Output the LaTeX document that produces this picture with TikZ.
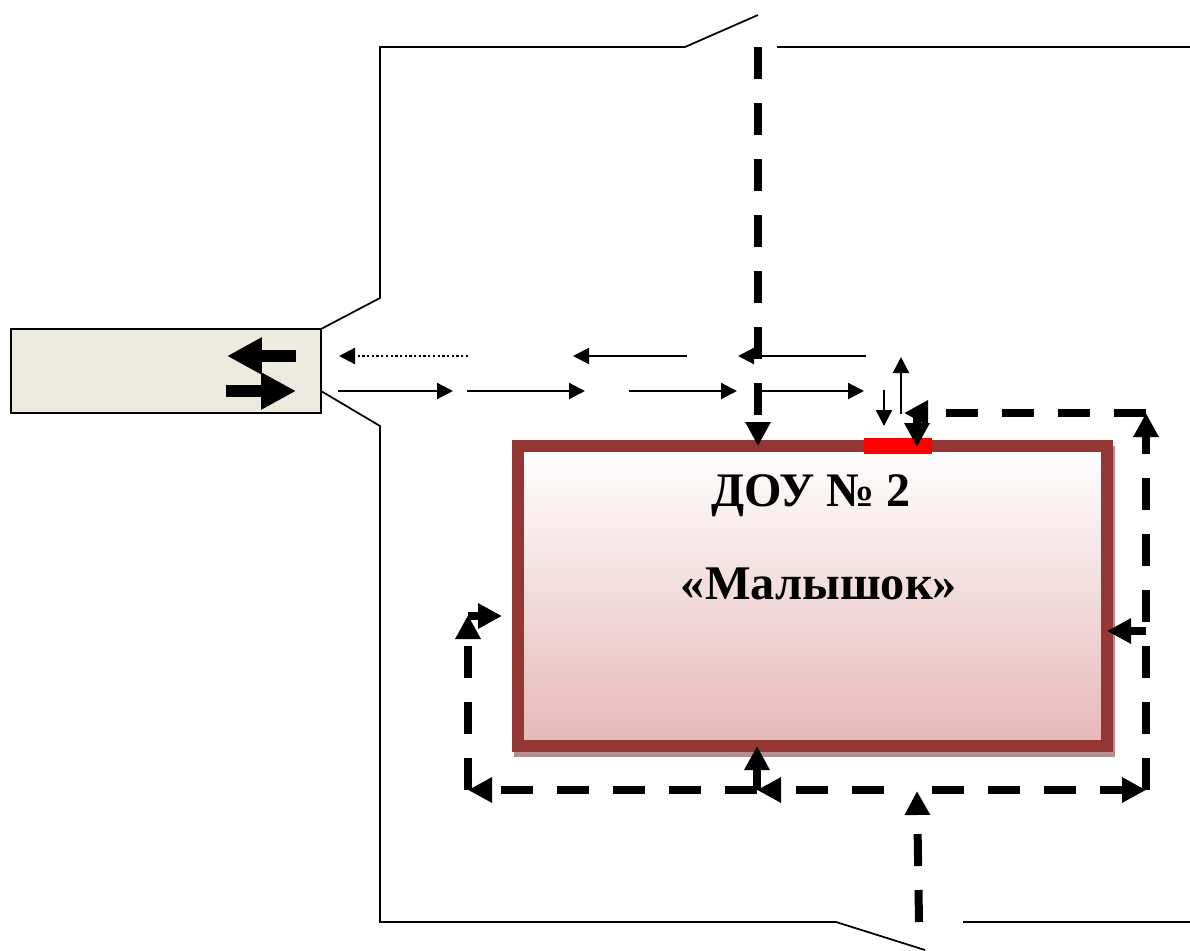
\documentclass[tikz,border=0pt]{standalone}
\usepackage{fontspec}
\setmainfont{Liberation Serif}
\usetikzlibrary{arrows.meta}

\definecolor{gatefill}{HTML}{EDEBE0}
\definecolor{wallbrown}{HTML}{943634}
\definecolor{wallshadow}{HTML}{B28F8E}
\definecolor{wallpink}{HTML}{E5B8B7}

\tikzset{
    road/.style={line width=0.035cm},
    car/.style={line width=0.045cm, -{Triangle[length=0.32cm, width=0.32cm]}},
    walk/.style={line width=0.16cm, dash pattern=on 0.64cm off 0.48cm, -{Triangle[length=0.48cm, width=0.48cm]}},
    stub/.style={line width=0.16cm, -{Triangle[length=0.48cm, width=0.48cm]}},
    gatearrow/.style={line width=0.24cm, -{Triangle[length=0.7cm, width=0.7cm]}}
}

\begin{document}
\begin{tikzpicture}[x=0.02cm, y=-0.02cm]
    \useasboundingbox (0, 0) rectangle (1190, 950);

    % Streets
    \draw[road] (758, 15) -- (685, 47) -- (380, 47) -- (380, 298) -- (321, 329);
    \draw[road] (777, 47) -- (1190, 47);
    \draw[road] (321, 391) -- (380, 426) -- (380, 922) -- (836, 922) -- (925, 950);
    \draw[road] (963, 922) -- (1190, 922);

    % Gate
    \draw[line width=0.04cm, fill=gatefill] (11, 329) rectangle (321, 413);
    \draw[gatearrow] (296, 356) -- (227, 356);
    \draw[gatearrow] (226, 391) -- (296, 391);

    % Building
    \fill[wallshadow] (514, 446) rectangle (1115, 757);
    \draw[line width=0.24cm, draw=wallbrown, top color=white, bottom color=wallpink] (518, 446) rectangle (1107, 746);
    \fill[red] (864, 438) rectangle (932, 454);
    \node[font=\bfseries, scale=2.74, anchor=base] (name1) at (811, 506) {ДОУ № 2};
    \node[font=\bfseries, scale=2.75, anchor=base] (name2) at (819, 599) {«Малышок»};

    % Traffic
    \draw[car, dash pattern=on 0.046cm off 0.048cm] (468, 356) -- (339, 356);
    \draw[car] (687, 356) -- (573, 356);
    \draw[car] (866, 356) -- (738, 356);
    \draw[car] (338, 391) -- (453, 391);
    \draw[car] (467, 391) -- (585, 391);
    \draw[car] (629, 391) -- (737, 391);
    \draw[car] (762, 391) -- (864, 391);
    \draw[car] (901, 414) -- (901, 357);
    \draw[car] (884, 390) -- (884, 426);

    % Walking routes
    \draw[walk] (758, 47) -- (758, 446);
    \draw[walk] (1146, 790) -- (1146, 413);
    \draw[walk] (1146, 413) -- (904, 413);
    \draw[stub] (917, 413) -- (917, 447);
    \draw[stub] (1146, 631) -- (1107, 631);
    \draw[walk] (932, 790) -- (1146, 790);
    \draw[walk] (884, 790) -- (757, 790);
    \draw[walk] (757, 790) -- (468, 790);
    \draw[walk] (468, 790) -- (468, 615);
    \draw[stub] (468, 616) -- (502, 616);
    \draw[stub] (757, 790) -- (757, 746);
    \draw[walk] (919, 922) -- (917, 791);
\end{tikzpicture}
\end{document}
